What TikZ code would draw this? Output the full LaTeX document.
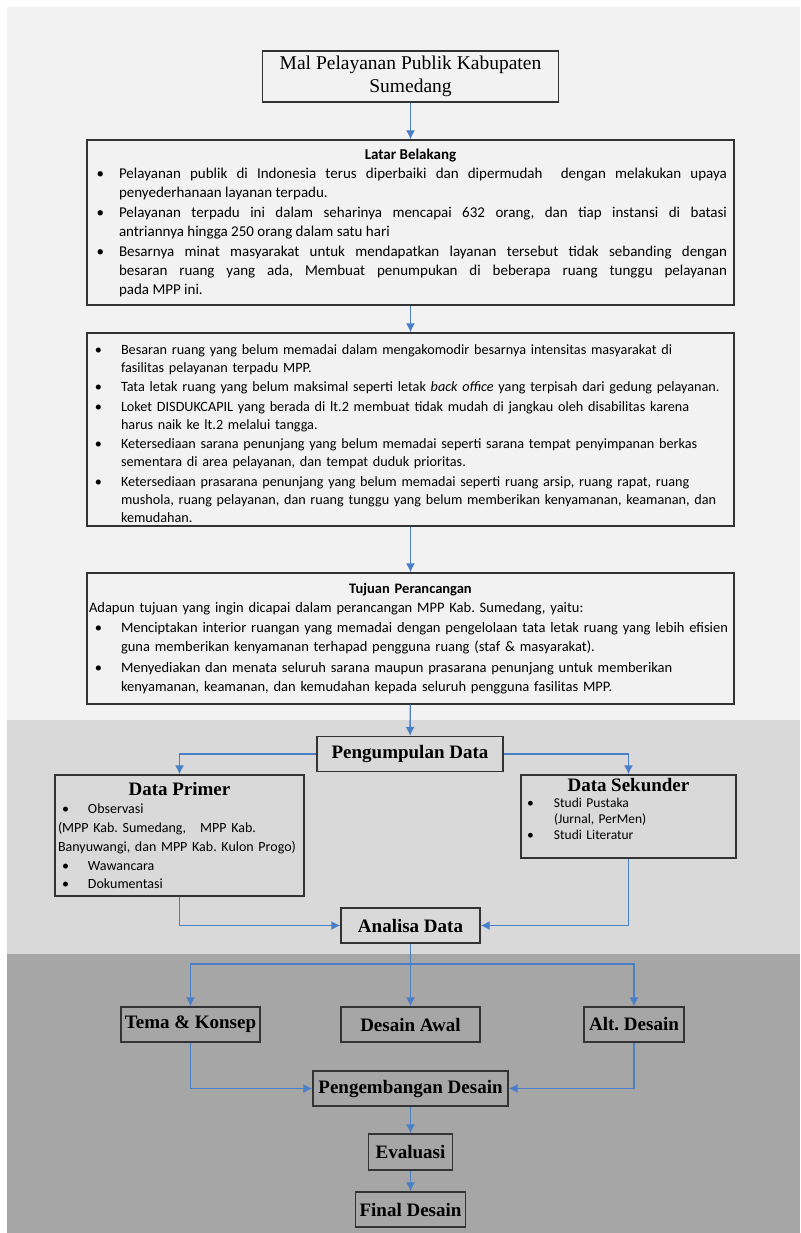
\documentclass[tikz,border=0pt]{standalone}
\usepackage{fontspec}
\setmainfont{Carlito}
\newfontfamily\timesfont{Liberation Serif}
\usetikzlibrary{arrows.meta}
\definecolor{panelatas}{HTML}{F2F2F2}
\definecolor{paneltengah}{HTML}{D9D9D9}
\definecolor{panelbawah}{HTML}{A6A6A6}
\definecolor{biru}{HTML}{4A7EC6}
\newcommand{\judul}{\timesfont\bfseries\fontsize{19}{22}\selectfont}
\newcommand{\butir}[2]{\hspace*{#1}\makebox[#2][l]{\textbullet}}
\newenvironment{daftar}[4]{\begin{list}{\textbullet}{\setlength{\topsep}{0pt}\setlength{\partopsep}{0pt}\setlength{\parsep}{0pt}\setlength{\itemsep}{#3}\setlength{\leftmargin}{#1}\setlength{\rightmargin}{#4}\setlength{\labelwidth}{10pt}\setlength{\labelsep}{#2}}}{\end{list}}
\hbadness=10000
\frenchspacing
\begin{document}
\begin{tikzpicture}[x=1pt, y=-1pt,
  kotak/.style={draw=black!80, line width=1.3pt, inner sep=0pt, minimum height=35pt, font=\judul},
  uraian/.style={draw=black!80, line width=1.3pt, inner xsep=2pt, inner ysep=0pt, text width=643pt},
  panah/.style={draw=biru, line width=1.3pt, -{Latex[length=9pt,width=9pt]}}]
	% latar panel
	\fill[white] (0,0) rectangle (800,1233);
	\fill[panelatas] (7,7) rectangle (800,720);
	\fill[paneltengah] (7,720) rectangle (800,954);
	\fill[panelbawah] (7,954) rectangle (800,1233);
    \node[kotak, minimum width=296pt, minimum height=51pt, align=center, font=\timesfont\fontsize{19.5}{23}\selectfont] (mal) at (410.5,76.5) {Mal Pelayanan Publik Kabupaten\\Sumedang};
    \node[uraian, align=justify, minimum height=165pt, font=\fontsize{15}{19}\selectfont] (latar) at (410.5,222.5) {%
      {\centering\bfseries Latar Belakang\par}
      \begin{daftar}{30pt}{15pt}{1pt}{5pt}
      \item Pelayanan publik di Indonesia terus diperbaiki dan dipermudah\ \ dengan melakukan upaya\linebreak penyederhanaan layanan terpadu.
      \item Pelayanan terpadu ini dalam seharinya mencapai 632 orang, dan tiap instansi di batasi\linebreak antriannya hingga 250 orang dalam satu hari
      \item Besarnya minat masyarakat untuk mendapatkan layanan tersebut tidak sebanding dengan\linebreak besaran ruang yang ada, Membuat penumpukan di beberapa ruang tunggu pelayanan\linebreak pada MPP ini.
      \end{daftar}};
    \node[uraian, minimum height=193pt, font=\fontsize{14.2}{18}\selectfont] (masalah) at (410.5,429.5) {\raggedright
      \begin{daftar}{32pt}{19pt}{1.5pt}{0pt}
      \item Besaran ruang yang belum memadai dalam mengakomodir besarnya intensitas masyarakat di\\ fasilitas pelayanan terpadu MPP.
      \item Tata letak ruang yang belum maksimal seperti letak \textit{back office} yang terpisah dari gedung pelayanan.
      \item Loket DISDUKCAPIL yang berada di lt.2 membuat tidak mudah di jangkau oleh disabilitas karena\\ harus naik ke lt.2 melalui tangga.
      \item Ketersediaan sarana penunjang yang belum memadai seperti sarana tempat penyimpanan berkas\\ sementara di area pelayanan, dan tempat duduk prioritas.
      \item Ketersediaan prasarana penunjang yang belum memadai seperti ruang arsip, ruang rapat, ruang\\ mushola, ruang pelayanan, dan ruang tunggu yang belum memberikan kenyamanan, keamanan, dan\\ kemudahan.
      \end{daftar}};
    \node[uraian, minimum height=131pt, font=\fontsize{14.5}{19.5}\selectfont] (tujuan) at (410.5,638.5) {%
      {\centering\bfseries Tujuan Perancangan\par}
      \noindent Adapun tujuan yang ingin dicapai dalam perancangan MPP Kab. Sumedang, yaitu:\par
      {\raggedright
      \begin{daftar}{32pt}{19pt}{1pt}{0pt}
      \item Menciptakan interior ruangan yang memadai dengan pengelolaan tata letak ruang yang lebih efisien\\ guna memberikan kenyamanan terhapad pengguna ruang (staf \& masyarakat).
      \item Menyediakan dan menata seluruh sarana maupun prasarana penunjang untuk memberikan\\ kenyamanan, keamanan, dan kemudahan kepada seluruh pengguna fasilitas MPP.
      \end{daftar}}};
    % tahap data
    \node[kotak, minimum width=186pt] (kumpul) at (410,754) {Pengumpulan Data};
    \node[kotak, text width=243pt, inner xsep=3pt, minimum height=121pt, font=\fontsize{14}{18.7}\selectfont] (primer) at (179.5,835.5) {%
      {\centering\judul Data Primer\par}
      \noindent\butir{4pt}{26pt}Observasi\\
      (MPP Kab. Sumedang,\hspace{14pt}MPP Kab.\\
      Banyuwangi, dan MPP Kab. Kulon Progo)\\
      \butir{4pt}{26pt}Wawancara\\
      \butir{4pt}{26pt}Dokumentasi};
    \node[kotak, text width=209pt, inner xsep=3pt, minimum height=83pt, font=\fontsize{13.5}{16}\selectfont] (sekunder) at (628.5,816.5) {%
      {\centering\judul Data Sekunder\par}
      \noindent\butir{3pt}{27pt}Studi Pustaka\\
      \hspace*{30pt}(Jurnal, PerMen)\\
      \butir{3pt}{27pt}Studi Literatur\par
      \noindent\rule{0pt}{0pt}};
    \node[kotak, minimum width=139pt] (analisa) at (410.5,925.5) {Analisa Data};
    % tahap desain
    \node[kotak, minimum width=139pt] (tema) at (190.5,1024.5) {Tema \& Konsep};
    \node[kotak, minimum width=139pt] (awal) at (410.5,1024.5) {Desain Awal};
    \node[kotak, minimum width=100pt] (alt) at (634,1024.5) {Alt. Desain};
    \node[kotak, minimum width=195pt] (kembang) at (410.5,1088.5) {Pengembangan Desain};
    \node[kotak, minimum width=84pt, minimum height=36pt] (evaluasi) at (410.5,1152) {Evaluasi};
    \node[kotak, minimum width=110pt] (final) at (410.5,1209.5) {Final Desain};
    \coordinate (simpang) at (410.5,964);
    \draw[panah] (mal) -- (latar);
    \draw[panah] (latar) -- (masalah);
    \draw[panah] (masalah) -- (tujuan);
    \draw[panah] (tujuan) -- (kumpul);
    \draw[panah] (kumpul) -| (primer);
    \draw[panah] (kumpul) -| (sekunder);
    \draw[panah] (primer) |- (analisa);
    \draw[panah] (sekunder) |- (analisa);
    \draw[panah] (analisa) -- (awal);
    \draw[panah] (simpang) -| (tema);
    \draw[panah] (simpang) -| (alt);
    \draw[panah] (tema) |- (kembang);
    \draw[panah] (alt) |- (kembang);
    \draw[panah] (kembang) -- (evaluasi);
    \draw[panah] (evaluasi) -- (final);
\end{tikzpicture}
\end{document}
